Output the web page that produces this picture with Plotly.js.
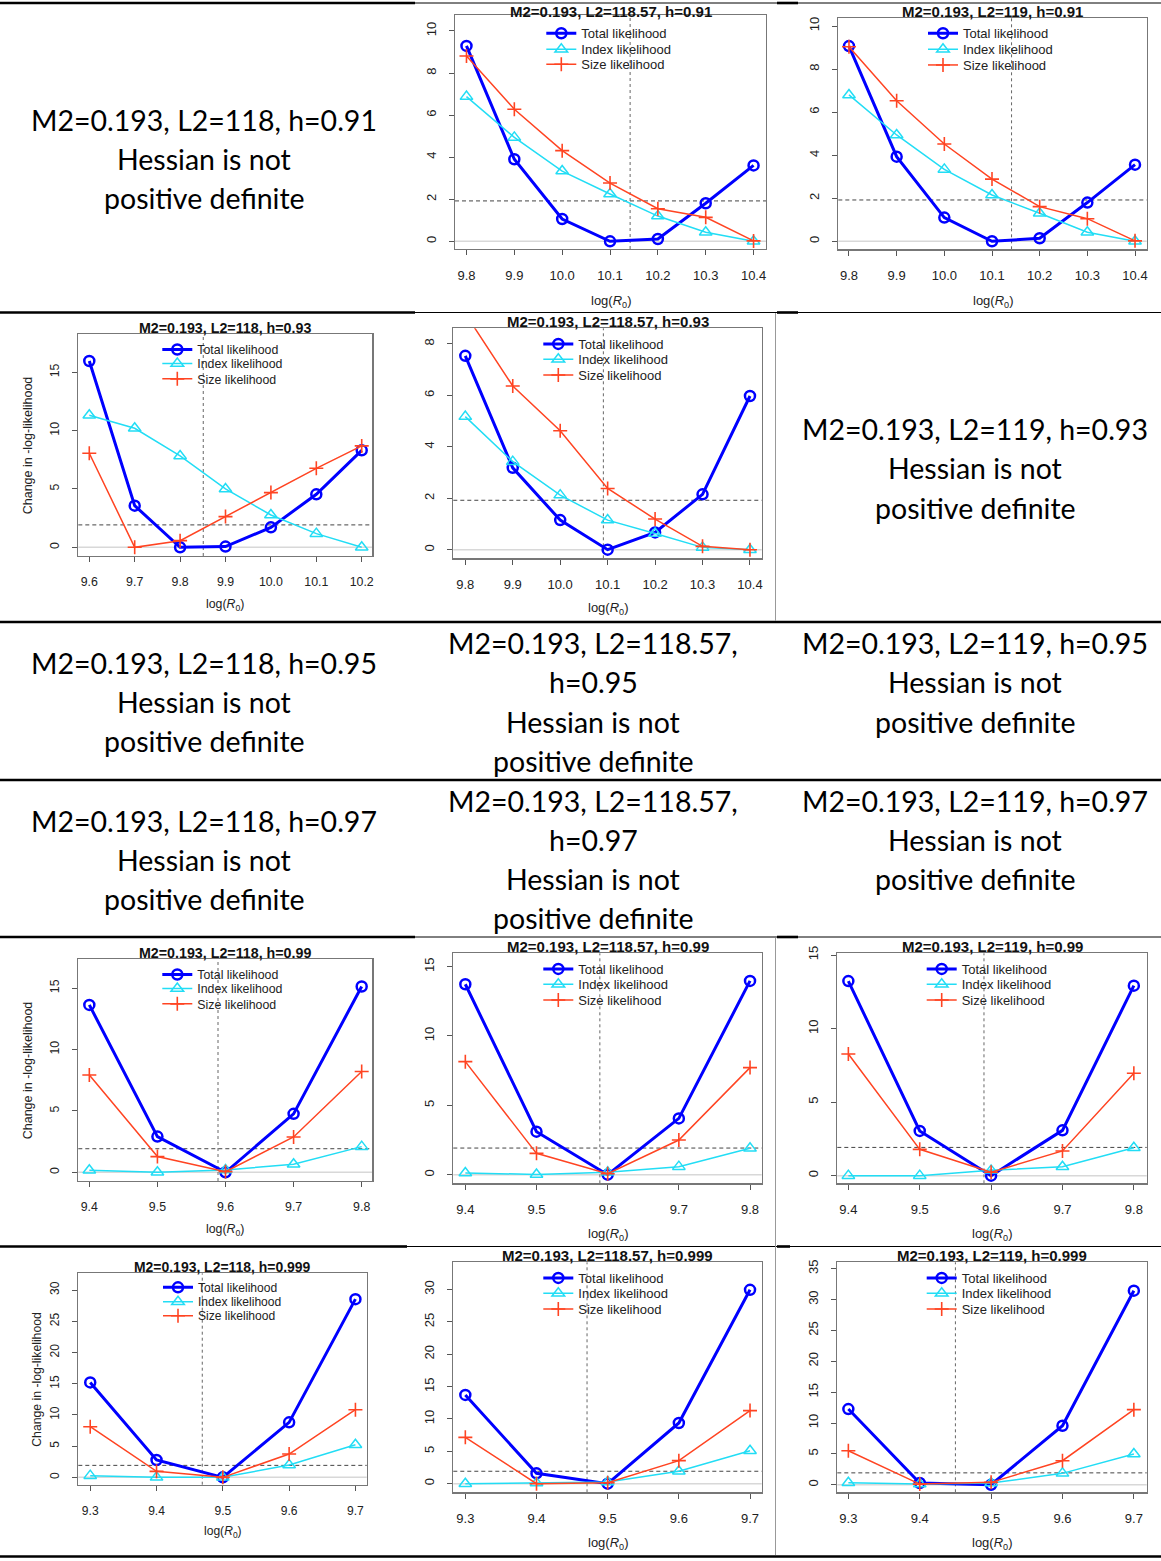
<!DOCTYPE html>
<html><head><meta charset="utf-8">
<script src="https://cdn.plot.ly/plotly-3.0.1.min.js"></script>
<style>html,body{margin:0;padding:0;background:#fff;} #chart{width:1161px;height:1561px;}</style>
</head><body><div id="chart"></div>
<script>
// ================= DATA =================
const logR0_h091 = [9.8, 9.9, 10.0, 10.1, 10.2, 10.3, 10.4];
const logR0_h093_L118 = [9.6, 9.7, 9.8, 9.9, 10.0, 10.1, 10.2];
const logR0_h093_L11857 = [9.8, 9.9, 10.0, 10.1, 10.2, 10.3, 10.4];
const logR0_h099 = [9.4, 9.5, 9.6, 9.7, 9.8];
const logR0_h0999 = [9.3, 9.4, 9.5, 9.6, 9.7];

const total_L11857_h091 = [9.29, 3.90, 1.06, 0, 0.11, 1.81, 3.61];
const index_L11857_h091 = [6.88, 4.94, 3.34, 2.25, 1.20, 0.43, 0];
const size_L11857_h091  = [8.81, 6.28, 4.31, 2.77, 1.55, 1.14, 0.02];

const total_L119_h091 = [9.07, 3.93, 1.10, 0, 0.14, 1.80, 3.56];
const index_L119_h091 = [6.80, 4.94, 3.34, 2.15, 1.30, 0.42, 0];
const size_L119_h091  = [9.04, 6.53, 4.52, 2.89, 1.61, 1.05, 0.02];

const total_L118_h093 = [15.97, 3.57, 0, 0.06, 1.71, 4.54, 8.31];
const index_L118_h093 = [11.31, 10.20, 7.83, 5.00, 2.77, 1.17, 0];
const size_L118_h093  = [8.06, 0, 0.57, 2.63, 4.69, 6.77, 8.69];

const total_L11857_h093 = [7.53, 3.18, 1.15, 0, 0.67, 2.15, 5.97];
const index_L11857_h093 = [5.17, 3.42, 2.12, 1.15, 0.63, 0.09, 0];
const size_L11857_h093  = [9.17, 6.36, 4.62, 2.38, 1.19, 0.13, 0];

const total_L118_h099 = [13.64, 2.91, 0, 4.76, 15.14];
const index_L118_h099 = [0.16, 0, 0.19, 0.65, 2.09];
const size_L118_h099  = [7.93, 1.28, 0.05, 2.88, 8.21];

const total_L11857_h099 = [13.73, 3.10, 0, 4.06, 13.97];
const index_L11857_h099 = [0.12, 0.02, 0.17, 0.58, 1.90];
const size_L11857_h099  = [8.15, 1.54, 0.07, 2.50, 7.72];

const total_L119_h099 = [13.23, 3.04, 0, 3.08, 12.92];
const index_L119_h099 = [0, 0, 0.36, 0.61, 1.90];
const size_L119_h099  = [8.27, 1.79, 0.23, 1.68, 6.96];

const total_L118_h0999 = [15.21, 2.78, 0, 8.81, 28.56];
const index_L118_h0999 = [0.27, 0, 0, 1.98, 5.23];
const size_L118_h0999  = [8.11, 0.96, 0, 3.74, 10.84];

const total_L11857_h0999 = [13.71, 1.60, 0, 9.38, 29.95];
const index_L11857_h0999 = [0, 0.10, 0.26, 1.91, 5.10];
const size_L11857_h0999  = [7.16, 0, 0.15, 3.56, 11.29];

const total_L119_h0999 = [12.26, 0.27, 0, 9.56, 31.44];
const index_L119_h0999 = [0.32, 0.10, 0.27, 1.84, 4.97];
const size_L119_h0999  = [5.51, 0.10, 0.38, 3.89, 12.16];

// MLE of log(R0) (vertical dashed) and chi-square/2 threshold (horizontal dashed)
const mleLogR0 = [10.142, 10.141, 9.851, 10.091, 9.589, 9.589, 9.590, 9.469, 9.471, 9.450];
const chiSqHalf = 1.92;

const chartTitles = [
  'M2=0.193, L2=118.57, h=0.91', 'M2=0.193, L2=119, h=0.91',
  'M2=0.193, L2=118, h=0.93', 'M2=0.193, L2=118.57, h=0.93',
  'M2=0.193, L2=118, h=0.99', 'M2=0.193, L2=118.57, h=0.99', 'M2=0.193, L2=119, h=0.99',
  'M2=0.193, L2=118, h=0.999', 'M2=0.193, L2=118.57, h=0.999', 'M2=0.193, L2=119, h=0.999'
];
const seriesNames = ['Total likelihood', 'Index likelihood', 'Size likelihood'];
const xTickText_h091 = ['9.8', '9.9', '10.0', '10.1', '10.2', '10.3', '10.4'];
const xTickText_h093 = ['9.6', '9.7', '9.8', '9.9', '10.0', '10.1', '10.2'];
const xTickText_h099 = ['9.4', '9.5', '9.6', '9.7', '9.8'];
const xTickText_h0999 = ['9.3', '9.4', '9.5', '9.6', '9.7'];
const yTicks10 = [0, 2, 4, 6, 8, 10];
const yTicks8 = [0, 2, 4, 6, 8];
const yTicks15 = [0, 5, 10, 15];
const yTicks30 = [0, 5, 10, 15, 20, 25, 30];
const yTicks35 = [0, 5, 10, 15, 20, 25, 30, 35];
const yAxisLabel = 'Change in -log-likelihood';
const xAxisLabel = 'log(<i>R</i><sub>0</sub>)';

// text-only table cells
const cellTexts = [
  ['M2=0.193, L2=118, h=0.91', 'Hessian is not', 'positive definite'],
  ['M2=0.193, L2=119, h=0.93', 'Hessian is not', 'positive definite'],
  ['M2=0.193, L2=118, h=0.95', 'Hessian is not', 'positive definite'],
  ['M2=0.193, L2=118.57,', 'h=0.95', 'Hessian is not', 'positive definite'],
  ['M2=0.193, L2=119, h=0.95', 'Hessian is not', 'positive definite'],
  ['M2=0.193, L2=118, h=0.97', 'Hessian is not', 'positive definite'],
  ['M2=0.193, L2=118.57,', 'h=0.97', 'Hessian is not', 'positive definite'],
  ['M2=0.193, L2=119, h=0.97', 'Hessian is not', 'positive definite']
];

// ================= LAYOUT GEOMETRY (pixels) =================
const W = 1161, H = 1561;
const px = x => x / W;
const py = y => 1 - y / H;

const panels = [
  {x: logR0_h091, tt: xTickText_h091, s: [total_L11857_h091, index_L11857_h091, size_L11857_h091],
   box: [455, 766, 15, 249], xr: [9.776, 10.426], yr: [-0.366, 10.76], yt: yTicks10,
   titleY: 11, xlabY: 301.7, leg: [582.3, 33.3, 49.3, 64.3], sc: 1, ylab: null},
  {x: logR0_h091, tt: xTickText_h091, s: [total_L119_h091, index_L119_h091, size_L119_h091],
   box: [838.3, 1146.7, 18.3, 249.3], xr: [9.7776, 10.4245], yr: [-0.372, 10.36], yt: yTicks10,
   titleY: 11.7, xlabY: 301.7, leg: [964, 33.3, 49.3, 65], sc: 1, ylab: null},
  {x: logR0_h093_L118, tt: xTickText_h093, s: [total_L118_h093, index_L118_h093, size_L118_h093],
   box: [78.3, 372.3, 334, 556], xr: [9.5758, 10.2233], yr: [-0.745, 18.28], yt: yTicks15,
   titleY: 328.3, xlabY: 605, leg: [198.3, 350, 364, 379.3], sc: 0.95, ylab: [28.3, 445]},
  {x: logR0_h093_L11857, tt: xTickText_h091, s: [total_L11857_h093, index_L11857_h093, size_L11857_h093],
   box: [453.3, 761.7, 328.3, 558.3], xr: [9.7747, 10.4247], yr: [-0.334, 8.60], yt: yTicks8,
   titleY: 321.7, xlabY: 608.3, leg: [579.3, 344, 359.3, 375], sc: 1, ylab: null},
  {x: logR0_h099, tt: xTickText_h099, s: [total_L118_h099, index_L118_h099, size_L118_h099],
   box: [78.3, 372.3, 959, 1181], xr: [9.3838, 9.8156], yr: [-0.71, 17.38], yt: yTicks15,
   titleY: 953.3, xlabY: 1230, leg: [198.3, 975, 989, 1004.3], sc: 0.95, ylab: [28.3, 1070]},
  {x: logR0_h099, tt: xTickText_h099, s: [total_L11857_h099, index_L11857_h099, size_L11857_h099],
   box: [453.3, 761.7, 953.3, 1183.3], xr: [9.3831, 9.8164], yr: [-0.62, 15.96], yt: yTicks15,
   titleY: 946.7, xlabY: 1234, leg: [579.3, 969, 984.3, 1000], sc: 1, ylab: null},
  {x: logR0_h099, tt: xTickText_h099, s: [total_L119_h099, index_L119_h099, size_L119_h099],
   box: [837.3, 1146.7, 953.3, 1183.3], xr: [9.3845, 9.818], yr: [-0.52, 15.12], yt: yTicks15,
   titleY: 946.7, xlabY: 1234, leg: [962.7, 969, 984.3, 1000], sc: 1, ylab: null},
  {x: logR0_h0999, tt: xTickText_h0999, s: [total_L118_h0999, index_L118_h0999, size_L118_h0999],
   box: [78.3, 366.7, 1273.3, 1484.7], xr: [9.282, 9.717], yr: [-1.18, 32.7], yt: yTicks30,
   titleY: 1267.3, xlabY: 1532.3, leg: [199, 1287.3, 1301.7, 1315.7], sc: 0.93, ylab: [36.7, 1379]},
  {x: logR0_h0999, tt: xTickText_h0999, s: [total_L11857_h0999, index_L11857_h0999, size_L11857_h0999],
   box: [453.3, 761.7, 1262.3, 1492.3], xr: [9.2831, 9.7164], yr: [-1.33, 34.2], yt: yTicks30,
   titleY: 1255.7, xlabY: 1543, leg: [579.3, 1278, 1293.3, 1309], sc: 1, ylab: null},
  {x: logR0_h0999, tt: xTickText_h0999, s: [total_L119_h0999, index_L119_h0999, size_L119_h0999],
   box: [837.3, 1146.7, 1262.3, 1492.3], xr: [9.2845, 9.718], yr: [-1.23, 36.04], yt: yTicks35,
   titleY: 1255.7, xlabY: 1543, leg: [962.7, 1278, 1293.3, 1309], sc: 1, ylab: null}
];

const COL_TOTAL = '#0000FF', COL_INDEX = '#22DDF5', COL_SIZE = '#FF4422';
const FONT = 'Liberation Sans, Arial, sans-serif';
const seriesStyle = [
  {line: {color: COL_TOTAL, width: 3}, marker: {symbol: 'circle-open', size: 10, color: COL_TOTAL, line: {width: 2.5, color: COL_TOTAL}}},
  {line: {color: COL_INDEX, width: 1.5}, marker: {symbol: 'triangle-up-open', size: 11, color: COL_INDEX, line: {width: 1.5, color: COL_INDEX}}},
  {line: {color: COL_SIZE, width: 1.5}, marker: {symbol: 'cross-thin-open', size: 10, color: COL_SIZE, line: {width: 1.6, color: COL_SIZE}}}
];

const traces = [];
const layout = {
  width: W, height: H, margin: {l: 0, r: 0, t: 0, b: 0},
  paper_bgcolor: '#fff', plot_bgcolor: 'rgba(0,0,0,0)',
  font: {family: FONT, color: '#222'},
  showlegend: true, shapes: [], annotations: []
};

const LEG_TEXT_OFF = 41;
let legCount = 0;

panels.forEach((p, i) => {
  const n = i === 0 ? '' : String(i + 1);
  const xa = 'x' + n, ya = 'y' + n;
  const fs = 13 * p.sc;
  layout['xaxis' + n] = {
    domain: [px(p.box[0]), px(p.box[1])], anchor: ya, range: p.xr,
    tickvals: p.x, ticktext: p.tt, ticks: 'outside', ticklen: 5, tickwidth: 1, tickcolor: '#555',
    showline: true, mirror: true, linecolor: '#777', linewidth: 1.3,
    showgrid: false, zeroline: false, ticklabelstandoff: 9,
    tickfont: {size: fs, family: FONT, color: '#222'}, fixedrange: true
  };
  layout['yaxis' + n] = {
    domain: [py(p.box[3]), py(p.box[2])], anchor: xa, range: p.yr,
    tickvals: p.yt, ticks: 'outside', ticklen: 5, tickwidth: 1, tickcolor: '#555',
    showline: true, mirror: true, linecolor: '#777', linewidth: 1.3,
    showgrid: false, zeroline: false, tickangle: -90, ticklabelstandoff: 8,
    tickfont: {size: fs, family: FONT, color: '#222'}, fixedrange: true
  };
  // reference lines
  layout.shapes.push({type: 'line', xref: xa + ' domain', yref: ya, x0: 0, x1: 1, y0: 0, y1: 0,
    line: {color: '#d8d8d8', width: 1.5}, layer: 'below'});
  layout.shapes.push({type: 'line', xref: xa + ' domain', yref: ya, x0: 0, x1: 1, y0: chiSqHalf, y1: chiSqHalf,
    line: {color: '#444', width: 1, dash: '4px,3px'}, layer: 'below'});
  layout.shapes.push({type: 'line', xref: xa, yref: ya + ' domain', x0: mleLogR0[i], x1: mleLogR0[i], y0: 0, y1: 1,
    line: {color: '#666', width: 1, dash: '3px,3px'}, layer: 'below'});

  p.s.forEach((vals, j) => {
    legCount += 1;
    const lid = legCount === 1 ? 'legend' : 'legend' + legCount;
    traces.push(Object.assign({
      type: 'scatter', mode: 'lines+markers', x: p.x, y: vals, xaxis: xa, yaxis: ya,
      name: seriesNames[j], legend: lid, hoverinfo: 'skip', cliponaxis: true
    }, JSON.parse(JSON.stringify(seriesStyle[j]))));
    layout[lid] = {
      x: px(p.leg[0] - LEG_TEXT_OFF), y: py(p.leg[1 + j]), xanchor: 'left', yanchor: 'middle',
      bgcolor: 'rgba(0,0,0,0)', borderwidth: 0,
      font: {size: fs, family: FONT, color: '#222'}
    };
  });

  const cx = (p.box[0] + p.box[1]) / 2;
  layout.annotations.push({xref: 'paper', yref: 'paper', x: px(cx), y: py(p.titleY), xanchor: 'center', yanchor: 'middle',
    text: '<b>' + chartTitles[i] + '</b>', showarrow: false, font: {size: 15 * p.sc, family: FONT, color: '#111'}});
  layout.annotations.push({xref: 'paper', yref: 'paper', x: px(cx), y: py(p.xlabY), xanchor: 'center', yanchor: 'middle',
    text: xAxisLabel, showarrow: false, font: {size: fs, family: FONT, color: '#222'}});
  if (p.ylab) {
    layout.annotations.push({xref: 'paper', yref: 'paper', x: px(p.ylab[0]), y: py(p.ylab[1]), xanchor: 'center', yanchor: 'middle',
      text: yAxisLabel, textangle: -90, showarrow: false, font: {size: 12.5 * p.sc / 0.95, family: FONT, color: '#222'}});
  }
});

// ---------- text cells ----------
const cellPos = [
  [204, [120, 159, 198]],
  [975, [429, 468, 508]],
  [204, [663, 702, 741]],
  [593, [643, 682, 722, 761]],
  [975, [643, 682, 722]],
  [204, [821, 860, 899]],
  [593, [801, 840, 879, 918]],
  [975, [801, 840, 879]]
];
cellTexts.forEach((lines, k) => {
  lines.forEach((t, m) => {
    layout.annotations.push({xref: 'paper', yref: 'paper', x: px(cellPos[k][0]), y: py(cellPos[k][1][m]),
      xanchor: 'center', yanchor: 'middle', text: t, showarrow: false,
      font: {size: 28.5, family: 'Lato, Open Sans, sans-serif', color: '#000'}});
  });
});

// ---------- table rules ----------
function hline(y, x0, x1, w) {
  layout.shapes.push({type: 'line', xref: 'paper', yref: 'paper', x0: px(x0), x1: px(x1), y0: py(y), y1: py(y),
    line: {color: '#000', width: w}, layer: 'above'});
}
function vline(x, y0, y1) {
  layout.shapes.push({type: 'line', xref: 'paper', yref: 'paper', x0: px(x), x1: px(x), y0: py(y0), y1: py(y1),
    line: {color: '#999', width: 1}, layer: 'above'});
}
[3, 312.5, 937].forEach(y => {
  hline(y, 0, 415, 2.6); hline(y, 415, 777, 1); hline(y, 777, 798, 2.6); hline(y, 798, 1161, 1);
});
hline(1246.5, 0, 390, 2.6); hline(1246.5, 390, 407, 2.6); hline(1246.5, 407, 777, 1);
hline(1246.5, 777, 790, 2.6); hline(1246.5, 790, 1161, 1);
[622, 780, 1556.5].forEach(y => hline(y, 0, 1161, 2.6));
vline(775.5, 313, 621);
vline(775.5, 938, 1555);

Plotly.newPlot('chart', traces, layout, {staticPlot: true, displayModeBar: false});
</script>
</body></html>
